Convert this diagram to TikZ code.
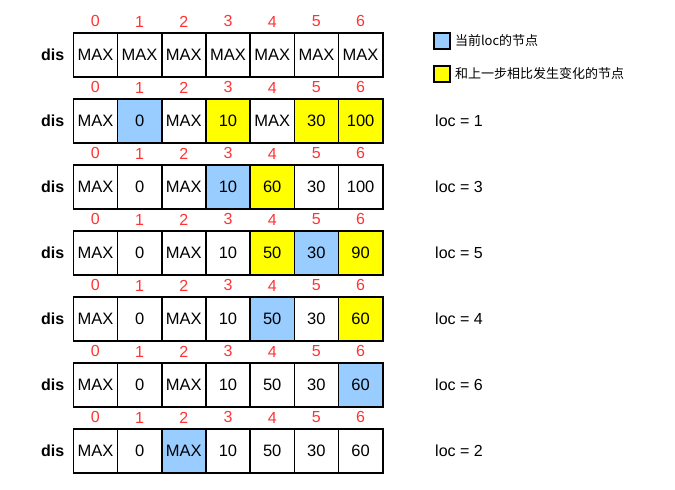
\documentclass[tikz,border=0pt]{standalone}
\usepackage{fontspec}
\setmainfont{Liberation Sans}
\newfontfamily\cjk{Noto Sans CJK SC}
\usetikzlibrary{positioning}
\definecolor{locblue}{HTML}{99CCFF}
\definecolor{chgyellow}{HTML}{FFFF00}
\definecolor{idxred}{HTML}{FF3333}
\tikzset{
  cell/.style={draw,line width=1.6pt,minimum width=44.2pt,minimum height=44pt,inner sep=0pt,font=\fontsize{16.5}{18}\selectfont},
  idx/.style={text=idxred,inner sep=0pt,font=\fontsize{16}{17}\selectfont},
  dislab/.style={inner sep=0pt,font=\bfseries\fontsize{16}{18}\selectfont},
  loclab/.style={anchor=west,inner sep=0pt,font=\fontsize{16}{18}\selectfont},
  key/.style={draw,line width=1.6pt,minimum size=16pt,inner sep=0pt},
  keytext/.style={anchor=west,inner sep=0pt,font=\cjk\fontsize{13}{14}\selectfont}
}
\begin{document}
\begin{tikzpicture}[x=1pt,y=-1pt]
\useasboundingbox (0,0) rectangle (675,490);
% one row of dis per step
\foreach \r/\vals in {
  1/{MAX/white,MAX/white,MAX/white,MAX/white,MAX/white,MAX/white,MAX/white},
  2/{MAX/white,0/locblue,MAX/white,10/chgyellow,MAX/white,30/chgyellow,100/chgyellow},
  3/{MAX/white,0/white,MAX/white,10/locblue,60/chgyellow,30/white,100/white},
  4/{MAX/white,0/white,MAX/white,10/white,50/chgyellow,30/locblue,90/chgyellow},
  5/{MAX/white,0/white,MAX/white,10/white,50/locblue,30/white,60/chgyellow},
  6/{MAX/white,0/white,MAX/white,10/white,50/white,30/white,60/locblue},
  7/{MAX/white,0/white,MAX/locblue,10/white,50/white,30/white,60/white}}
{
  \foreach \v/\f [count=\j from 0] in \vals {
    \node[cell,fill=\f] (c\r-\j) at ({95.4+44.2*\j},{55+66*(\r-1)}) {\v};
    \node[idx,above=5pt of c\r-\j] (i\r-\j) {\j};
  }
  \node[dislab,left=8pt of c\r-0] (d\r) {dis};
}
\foreach \r/\l in {2/1,3/3,4/5,5/4,6/6,7/2}
  \node[loclab] (l\r) at (435,{55+66*(\r-1)}) {loc = \l};
% legend
\node[key,fill=locblue] (kb) at (442,41) {};
\node[keytext,right=4pt of kb] (tb) {当前loc的节点};
\node[key,fill=chgyellow] (ky) at (442,74) {};
\node[keytext,right=4pt of ky] (ty) {和上一步相比发生变化的节点};
\end{tikzpicture}
\end{document}
